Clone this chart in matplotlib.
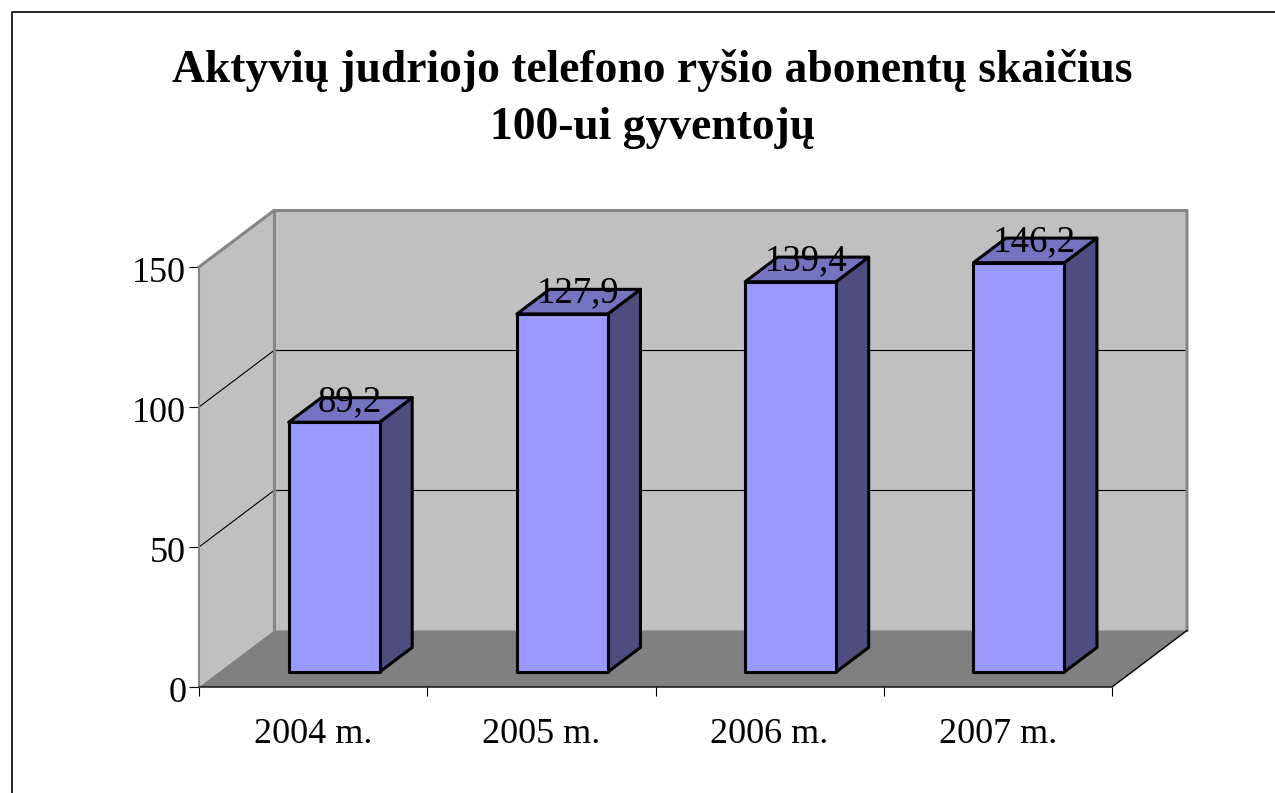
import numpy as np
import matplotlib
matplotlib.use("Agg")
import matplotlib.pyplot as plt
from matplotlib.patches import Polygon, Rectangle
from matplotlib.transforms import ScaledTranslation

plt.rcParams['font.family'] = ['Liberation Serif', 'DejaVu Serif']

title = "Aktyvių judriojo telefono ryšio abonentų skaičius\n100-ui gyventojų"
categories = ["2004 m.", "2005 m.", "2006 m.", "2007 m."]
labels = ["89,2", "127,9", "139,4", "146,2"]
values = [89.2, 127.9, 139.4, 146.2]
yticks = [0, 50, 100, 150]

W, H = 1275, 793
# front plane of the fake 3d box, in pixels
left, right, bottom, top = 199, 1112, 687, 267
# depth of the box in data units
DX = 75 / ((right - left) / 4)
DY = 56.5 / ((bottom - top) / 150)
bar_w = 0.398
bar_shift = 0.005
bar_z0 = 0.265
bar_z1 = 0.70

fig = plt.figure(figsize=(W / 100, H / 100), dpi=100, facecolor="white")
ax = fig.add_axes([left / W, 1 - bottom / H, (right - left) / W, (bottom - top) / H])
ax.set_xlim(0, 4)
ax.set_ylim(0, 150)
ax.patch.set_visible(False)
for s in ax.spines.values():
    s.set_visible(False)

ax.set_yticks(yticks)
ax.tick_params(axis="y", length=7.2, width=0.8, labelsize=26, pad=2)
# the y labels sit a little under their ticks
for lab in ax.get_yticklabels():
    lab.set_transform(lab.get_transform() + ScaledTranslation(0, -2 / 72, fig.dpi_scale_trans))
ax.set_xticks(range(5))
ax.set_xticklabels([])
ax.tick_params(axis="x", which="major", length=6.5, width=0.8)
ax.set_xticks(np.arange(4) + 0.5, minor=True)
ax.set_xticklabels(categories, minor=True)
ax.tick_params(axis="x", which="minor", length=0, labelsize=26, pad=22.5)


def poly(pts, **kw):
    ax.add_patch(Polygon(pts, closed=True, clip_on=False, **kw))


def line(xs, ys, **kw):
    ax.plot(xs, ys, clip_on=False, solid_capstyle="projecting", **kw)


# walls and floor
grey = "#c0c0c0"
edge = "#868686"
poly([(0, 0), (DX, DY), (DX, 150 + DY), (0, 150)], fc=grey, ec="none", zorder=1)
poly([(DX, DY), (4 + DX, DY), (4 + DX, 150 + DY), (DX, 150 + DY)], fc=grey, ec="none", zorder=1)
poly([(0, 0), (4, 0), (4 + DX, DY), (DX, DY)], fc="#808080", ec="none", zorder=1)

# gridlines
for v in yticks[1:3]:
    line([0, DX, 4 + DX], [v, v + DY, v + DY], color="black", lw=0.8, zorder=2)

# wall borders
line([0, 0], [0, 150], color=edge, lw=1.5, zorder=3)
line([0, DX, 4 + DX, 4 + DX], [150, 150 + DY, 150 + DY, DY], color=edge, lw=2.2, zorder=3)
line([DX, DX], [DY, 150 + DY], color=edge, lw=2.2, zorder=3)

# axis lines
line([0, 4, 4 + DX], [0, 0, DY], color="black", lw=1.0, zorder=3)

# bars
for i, v in enumerate(values):
    x0 = i + 0.5 - bar_w / 2 + bar_z0 * DX + bar_shift
    x1 = x0 + bar_w
    y0 = bar_z0 * DY
    dx = (bar_z1 - bar_z0) * DX
    dy = (bar_z1 - bar_z0) * DY
    bar_kw = dict(ec="black", lw=2.2, joinstyle="round", zorder=4)
    poly([(x1, y0), (x1 + dx, y0 + dy), (x1 + dx, y0 + v + dy), (x1, y0 + v)], fc="#4d4d80", **bar_kw)
    poly([(x0, y0 + v), (x1, y0 + v), (x1 + dx, y0 + v + dy), (x0 + dx, y0 + v + dy)], fc="#7373bf", **bar_kw)
    ax.add_patch(Rectangle((x0, y0), bar_w, v, fc="#9999ff", clip_on=False, **bar_kw))
    ax.text(x0 + bar_w / 2 + dx / 2 - 0.005, y0 + v + dy / 2 + 3.0, labels[i], ha="center", va="center",
            fontsize=26.5, zorder=6)

fig.text(652.5 / W, 1 - 99 / H, title, ha="center", va="center", fontsize=32.8, fontweight="bold",
         linespacing=1.46)

# chart border, only top and left are inside the image
fig.add_artist(plt.Line2D([11.5 / W, 11.5 / W, 1], [0, 1 - 12 / H, 1 - 12 / H], color="#222222", lw=1.4))

fig.savefig("out.png", dpi=100)
